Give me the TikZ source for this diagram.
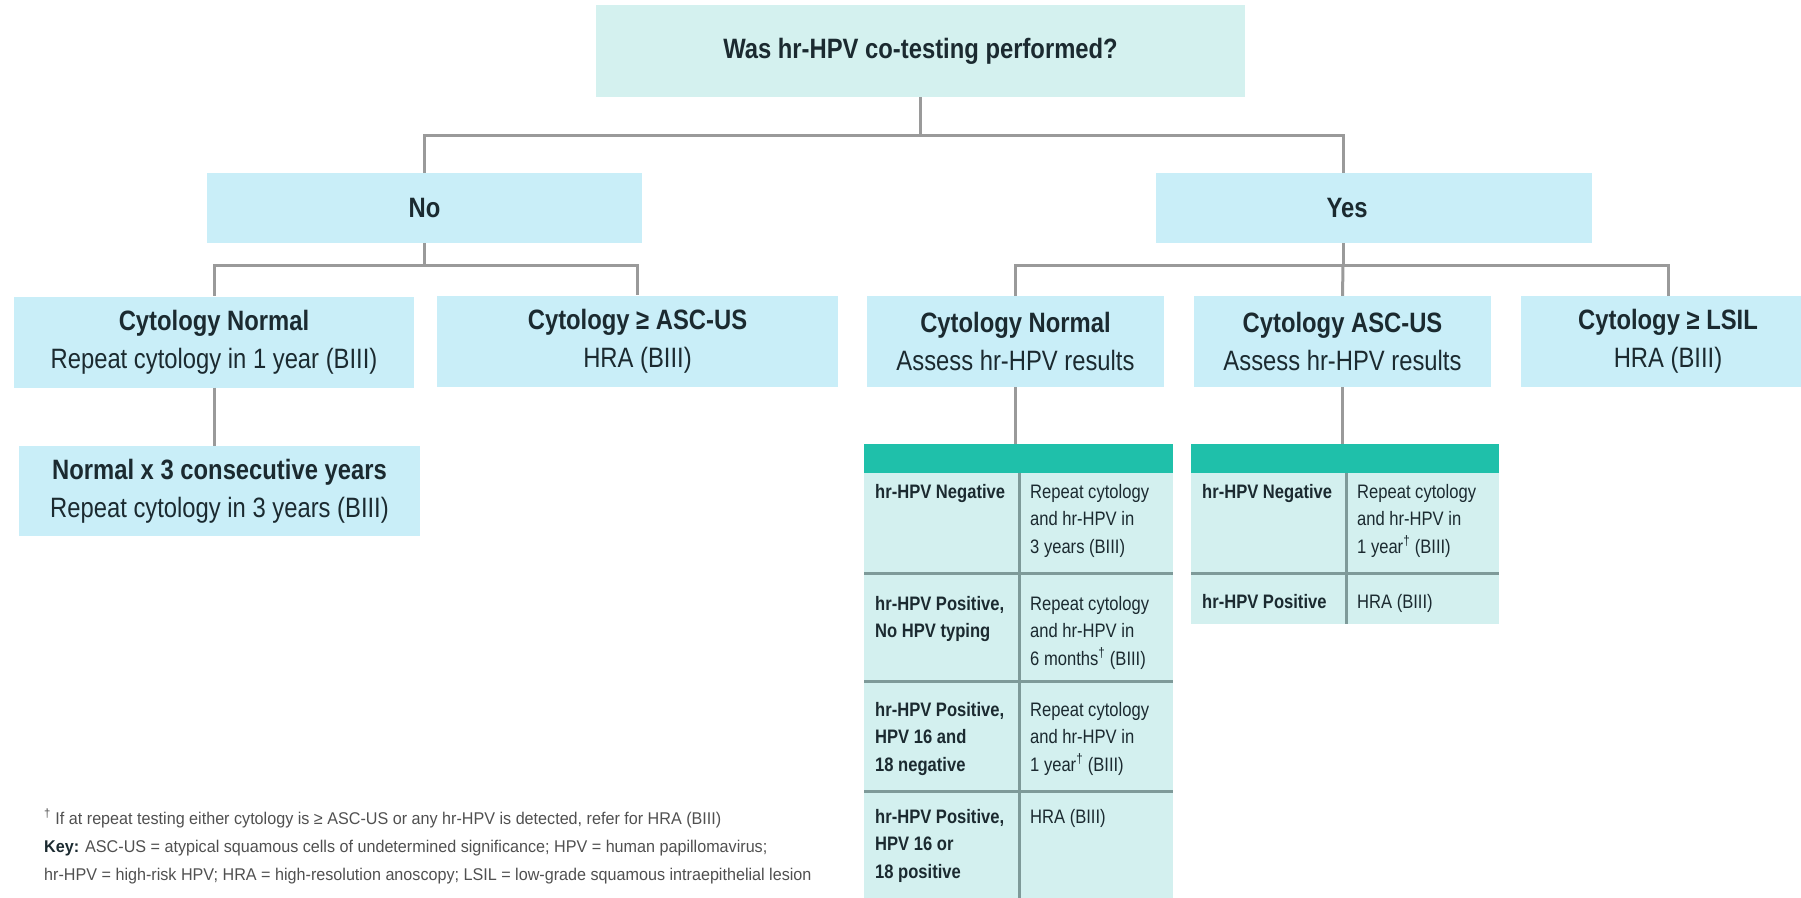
\documentclass[tikz,border=0pt]{standalone}
\usepackage{fontspec}
\setmainfont[FakeStretch=0.85]{Liberation Sans}
\newfontfamily\notefamily[FakeStretch=0.95]{Liberation Sans}
\usetikzlibrary{positioning}

\definecolor{inkcol}{HTML}{1B2A30}
\definecolor{notecol}{HTML}{505050}
\definecolor{askfill}{HTML}{D4F1EF}
\definecolor{boxfill}{HTML}{C9EEF8}
\definecolor{cellfill}{HTML}{D3F0EF}
\definecolor{hdrteal}{HTML}{1FC0AA}
\definecolor{linkgray}{HTML}{9A9A9A}
\definecolor{gridcol}{HTML}{7E9A99}

\newcommand\boxfont{\fontsize{28}{38}\selectfont}
\newcommand\cellfont{\fontsize{19.5}{27.5}\selectfont}
\newcommand\notefont{\notefamily\fontsize{17}{28}\selectfont}

\begin{document}
\begin{tikzpicture}[x=1pt, y=-1pt,
    link/.style={draw=linkgray, line width=3pt},
    gridline/.style={draw=gridcol, line width=3pt},
    question/.style={fill=askfill, text=inkcol, font=\boxfont\bfseries, inner sep=0pt},
    choice/.style={fill=boxfill, text=inkcol, font=\boxfont, align=center, inner sep=0pt},
    hdr/.style={fill=hdrteal, inner sep=0pt, anchor=north west, minimum height=29},
    cell/.style={text=inkcol, font=\cellfont, align=left, inner sep=0pt, anchor=north west},
    note/.style={text=notecol, font=\notefont, align=left, inner sep=0pt, anchor=north west}]
    \useasboundingbox (0,0) rectangle (1801,897);

    % question and first answers
    \node[question, minimum width=649, minimum height=92] (ask) at (920.5,51) {Was hr-HPV co-testing performed?};
    \node[choice, minimum width=435, minimum height=70] (no) at (424.5,208) {\bfseries No};
    \node[choice, minimum width=436, minimum height=70] (yes) at (1374,208) {\makebox[0pt]{\hspace*{-54pt}\bfseries Yes}};
    \draw[link] (ask.south) -- ++(0,38) -| (no.north);
    \draw[link] (ask.south) ++(0,38) -| ([xshift=-31]yes.north);

    % no branch
    \node[choice, minimum width=400, minimum height=91] (cnl) at (214,342) {\textbf{Cytology Normal}\\Repeat cytology in 1 year (BIII)};
    \node[choice, minimum width=401, minimum height=91] (asl) at (637.5,341) {\textbf{Cytology ≥ ASC-US}\\HRA (BIII)};
    \node[choice, minimum width=401, minimum height=90] (nx3) at (219.5,491) {\textbf{Normal x 3 consecutive years}\\Repeat cytology in 3 years (BIII)};
    \draw[link] (no.south) -- ++(0,22) -| (cnl.north);
    \draw[link] (no.south) ++(0,22) -| (asl.north);
    \draw[link] (cnl.south) -- (cnl.south |- nx3.north);

    % yes branch
    \node[choice, minimum width=297, minimum height=91] (cnr) at (1015.5,341.5) {\textbf{Cytology Normal}\\Assess hr-HPV results};
    \node[choice, minimum width=297, minimum height=91] (acr) at (1342.5,341.5) {\textbf{Cytology ASC-US}\\Assess hr-HPV results};
    \node[choice, minimum width=294, minimum height=91] (lsil) at (1668,341.5) {\textbf{Cytology ≥ LSIL}\\HRA (BIII)};
    \draw[link] ([xshift=-31]yes.south) -- ++(0,22) -| (cnr.north);
    \draw[link] ([xshift=-31]yes.south) ++(0,22) -| (lsil.north);
    \draw[link] ([xshift=-31]yes.south) ++(0,22) -- (acr.north);

    % table for normal cytology
    \node[hdr, minimum width=309] (hdA) at (864,444) {};
    \fill[cellfill] (hdA.south west) rectangle (1173,900);
    \draw[gridline] (1019,473) -- (1019,900);
    \draw[gridline] (864,573) -- (1173,573);
    \draw[gridline] (864,681) -- (1173,681);
    \draw[gridline] (864,791) -- (1173,791);
    \draw[link] (cnr.south) -- (cnr.south |- hdA.north);
    \node[cell] (a11) at (875,484) {\bfseries hr-HPV Negative};
    \node[cell] (a12) at (1030,484) {Repeat cytology\\and hr-HPV in\\3 years (BIII)};
    \node[cell] (a21) at (875,596) {\bfseries hr-HPV Positive,\\\bfseries No HPV typing};
    \node[cell] (a22) at (1030,596) {Repeat cytology\\and hr-HPV in\\6 months\textsuperscript{†} (BIII)};
    \node[cell] (a31) at (875,702) {\bfseries hr-HPV Positive,\\\bfseries HPV 16 and\\\bfseries 18 negative};
    \node[cell] (a32) at (1030,702) {Repeat cytology\\and hr-HPV in\\1 year\textsuperscript{†} (BIII)};
    \node[cell] (a41) at (875,809) {\bfseries hr-HPV Positive,\\\bfseries HPV 16 or\\\bfseries 18 positive};
    \node[cell] (a42) at (1030,809) {HRA (BIII)};

    % table for ASC-US
    \node[hdr, minimum width=308] (hdB) at (1191,444) {};
    \fill[cellfill] (hdB.south west) rectangle (1499,624);
    \draw[gridline] (1346,473) -- (1346,624);
    \draw[gridline] (1191,573) -- (1499,573);
    \draw[link] (acr.south) -- (acr.south |- hdB.north);
    \node[cell] (b11) at (1202,484) {\bfseries hr-HPV Negative};
    \node[cell] (b12) at (1357,484) {Repeat cytology\\and hr-HPV in\\1 year\textsuperscript{†} (BIII)};
    \node[cell] (b21) at (1202,594) {\bfseries hr-HPV Positive};
    \node[cell] (b22) at (1357,594) {HRA (BIII)};

    % footnote
    \node[note] (fn) at (44,809) {\textsuperscript{†} If at repeat testing either cytology is ≥ ASC-US or any hr-HPV is detected, refer for HRA (BIII)\\
      {\color{inkcol}\bfseries Key:} ASC-US = atypical squamous cells of undetermined significance; HPV = human papillomavirus;\\
      hr-HPV = high-risk HPV; HRA = high-resolution anoscopy; LSIL = low-grade squamous intraepithelial lesion};
\end{tikzpicture}
\end{document}
